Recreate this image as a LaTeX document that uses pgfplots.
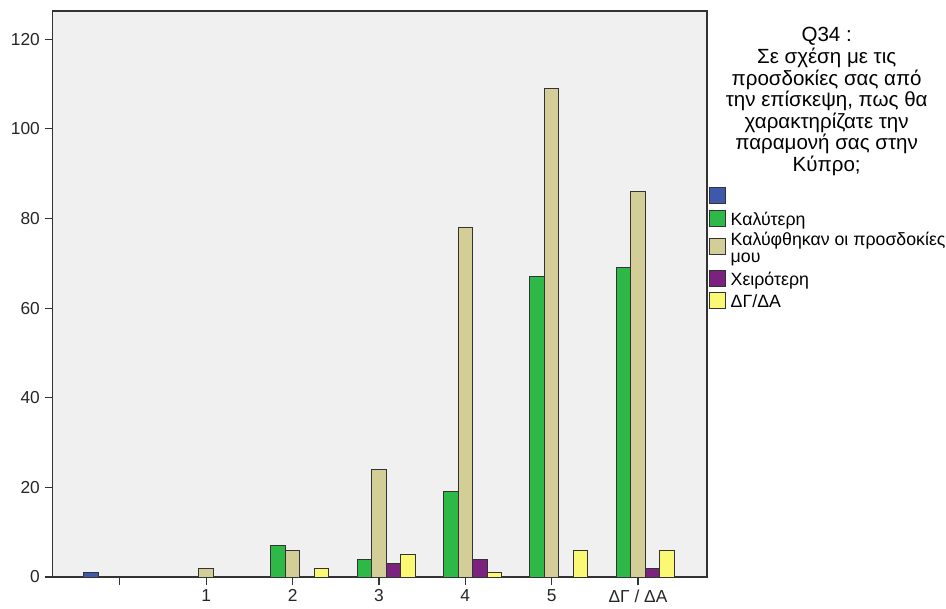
\documentclass[border=0pt]{standalone}
\usepackage{fontspec}
\setmainfont{Liberation Sans}
\usepackage{pgfplots}
\pgfplotsset{compat=1.18}
\definecolor{cblue}{HTML}{3E58AC}
\definecolor{cgreen}{HTML}{2EB848}
\definecolor{ckhaki}{HTML}{D3CE97}
\definecolor{cpurple}{HTML}{7B2281}
\definecolor{cyellow}{HTML}{FBF873}
\definecolor{bg}{HTML}{F0F0F0}
\begin{document}
\begin{tikzpicture}
\useasboundingbox (0,0) rectangle (709.5pt,456pt);
\begin{axis}[
 at={(39.4pt,23.25pt)}, anchor=south west,
 scale only axis, width=490.9pt, height=424.5pt,
 xmin=-0.78, xmax=6.8, ymin=0, ymax=126.3,
 axis background/.style={fill=bg},
 axis line style={black!80, line width=1pt},
 xtick={0,...,6}, xticklabels={{},1,2,3,4,5,ΔΓ / ΔΑ},
 ytick={0,20,...,120},
 tick align=outside, xtick pos=bottom, ytick pos=left,
 major tick length=6pt,
 tick style={black!80, line width=0.9pt},
 ticklabel style={font=\fontsize{13}{14}\selectfont, text=black!85},
 /pgf/number format/assume math mode=true,
 legend image code/.code={\draw[#1, line width=0.75pt] (0pt,-4pt) rectangle (12pt,8pt);},
 legend cell align=left,
 legend style={at={(1.003,0.689)}, anchor=north west, draw=none, fill=none,
   inner sep=0pt, outer sep=0pt, row sep=1.75pt, column sep=3.5pt,
   font=\fontsize{13.3}{14}\selectfont,
   nodes={inner sep=0pt, text height=10pt, text depth=3.5pt}},
]
\addplot[ybar, bar width=10.9pt, bar shift=-21.8pt, fill=cblue, draw=black!80, line width=0.75pt]
  coordinates {(0,1)};
\addlegendentry{}
\addplot[ybar, bar width=10.9pt, bar shift=-10.9pt, fill=cgreen, draw=black!80, line width=0.75pt]
  coordinates {(2,7) (3,4) (4,19) (5,67) (6,69)};
\addlegendentry{Καλύτερη}
\addplot[ybar, bar width=10.9pt, bar shift=0pt, fill=ckhaki, draw=black!80, line width=0.75pt]
  coordinates {(1,2) (2,6) (3,24) (4,78) (5,109) (6,86)};
\addlegendentry[text height=, text depth=]{\renewcommand{\arraystretch}{0.9}\begin{tabular}[c]{@{}l@{}}Καλύφθηκαν οι προσδοκίες\\μου\end{tabular}}
\addplot[ybar, bar width=10.9pt, bar shift=10.9pt, fill=cpurple, draw=black!80, line width=0.75pt]
  coordinates {(3,3) (4,4) (6,2)};
\addlegendentry{Χειρότερη}
\addplot[ybar, bar width=10.9pt, bar shift=21.8pt, fill=cyellow, draw=black!80, line width=0.75pt]
  coordinates {(2,2) (3,5) (4,1) (5,6) (6,6)};
\addlegendentry{ΔΓ/ΔΑ}
\end{axis}
\node[anchor=north, inner sep=0pt, align=center, font=\fontsize{15.4}{16.2}\selectfont]
  at (620pt,435.5pt) {Q34 :\\Σε σχέση με τις\\προσδοκίες σας από\\την επίσκεψη, πως θα\\χαρακτηρίζατε την\\παραμονή σας στην\\Κύπρο;};
\end{tikzpicture}
\end{document}
